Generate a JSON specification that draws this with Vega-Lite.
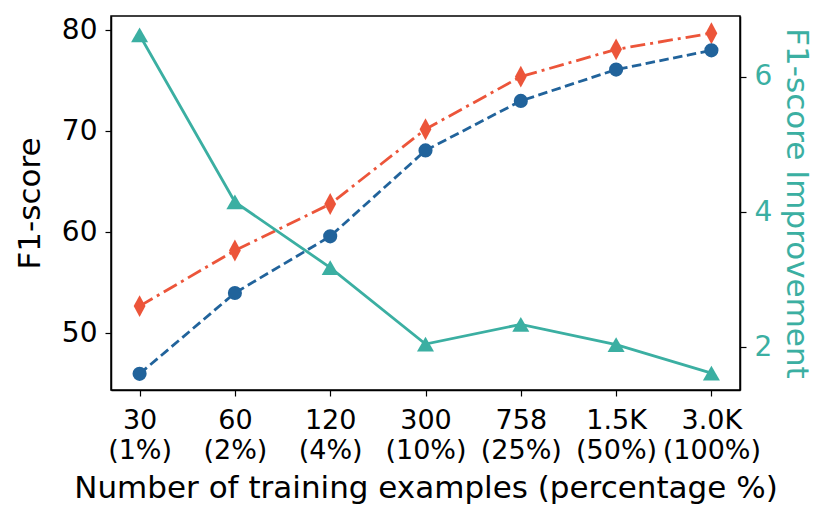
{
  "$schema": "https://vega.github.io/schema/vega-lite/v6.json",
  "width": 629,
  "height": 374,
  "autosize": {"type": "none"},
  "padding": {"left": 111, "top": 16, "right": 91, "bottom": 115},
  "config": {
    "font": "DejaVu Sans",
    "view": {"stroke": "black", "strokeWidth": 1.5},
    "axis": {
      "grid": false,
      "domainColor": "black",
      "domainWidth": 1.5,
      "tickColor": "black",
      "tickWidth": 1.2,
      "tickSize": 6,
      "labelFont": "DejaVu Sans",
      "titleFont": "DejaVu Sans",
      "labelFontSize": 28,
      "titleFontSize": 31,
      "labelColor": "black",
      "titleColor": "black",
      "titleFontWeight": "normal"
    }
  },
  "data": {
    "values": [
      {"label": "30\n(1%)", "order": 1, "base": 46.0, "ours": 52.7, "improve": 6.62},
      {"label": "60\n(2%)", "order": 2, "base": 54.0, "ours": 58.2, "improve": 4.15},
      {"label": "120\n(4%)", "order": 3, "base": 59.6, "ours": 62.8, "improve": 3.18},
      {"label": "300\n(10%)", "order": 4, "base": 68.1, "ours": 70.2, "improve": 2.05},
      {"label": "758\n(25%)", "order": 5, "base": 73.0, "ours": 75.4, "improve": 2.34},
      {"label": "1.5K\n(50%)", "order": 6, "base": 76.1, "ours": 78.1, "improve": 2.04},
      {"label": "3.0K\n(100%)", "order": 7, "base": 78.0, "ours": 79.7, "improve": 1.62}
    ]
  },
  "encoding": {
    "x": {
      "field": "label",
      "type": "ordinal",
      "sort": {"field": "order"},
      "scale": {"type": "point", "padding": 0.3},
      "axis": {
        "title": "Number of training examples (percentage %)",
        "labelAngle": 0,
        "labelFontSize": 27,
        "labelExpr": "split(datum.value, '\\n')",
        "labelLineHeight": 30,
        "labelPadding": 11,
        "titlePadding": 10
      }
    }
  },
  "layer": [
    {
      "layer": [
        {
          "mark": {
            "type": "line",
            "color": "#ec553a",
            "strokeWidth": 2.8,
            "strokeDash": [15, 5, 3, 5],
            "point": {
              "filled": true,
              "color": "#ec553a",
              "shape": "M0,-1L0.54,0L0,1L-0.54,0Z",
              "size": 480,
              "opacity": 1
            }
          },
          "encoding": {
            "y": {
              "field": "ours",
              "type": "quantitative",
              "scale": {"domain": [44.4, 81.4], "nice": false, "zero": false},
              "axis": {
                "title": "F1-score",
                "orient": "left",
                "values": [50, 60, 70, 80],
                "labelPadding": 8,
                "titlePadding": 15
              }
            }
          }
        },
        {
          "mark": {
            "type": "line",
            "color": "#21639b",
            "strokeWidth": 2.8,
            "strokeDash": [9.5, 4.5],
            "point": {
              "filled": true,
              "color": "#21639b",
              "shape": "circle",
              "size": 200,
              "opacity": 1
            }
          },
          "encoding": {
            "y": {"field": "base", "type": "quantitative"}
          }
        }
      ]
    },
    {
      "mark": {
        "type": "line",
        "color": "#3bafa2",
        "strokeWidth": 2.8,
        "point": {
          "filled": true,
          "color": "#3bafa2",
          "shape": "triangle-up",
          "size": 290,
          "opacity": 1
        }
      },
      "encoding": {
        "y": {
          "field": "improve",
          "type": "quantitative",
          "scale": {"domain": [1.37, 6.9], "nice": false, "zero": false},
          "axis": {
            "title": "F1-score Improvement",
            "orient": "right",
            "values": [2, 4, 6],
            "labelColor": "#3bafa2",
            "titleColor": "#3bafa2",
            "labelPadding": 8,
            "titlePadding": 8
          }
        }
      }
    }
  ],
  "resolve": {"scale": {"y": "independent"}}
}
